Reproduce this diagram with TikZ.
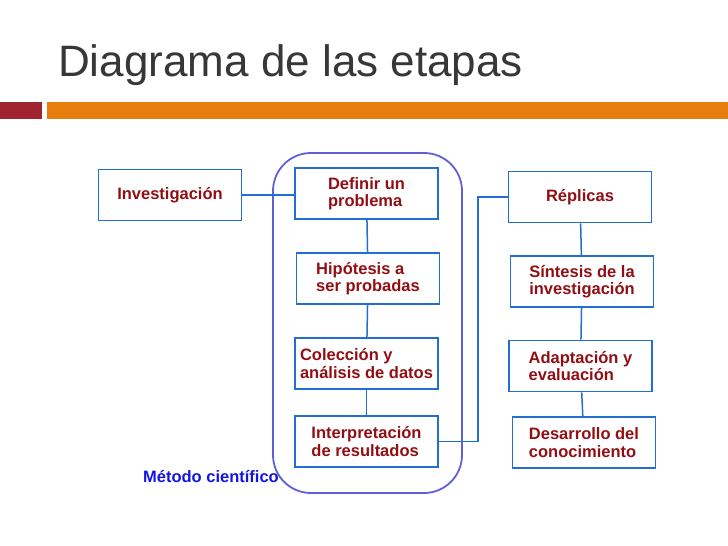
\documentclass[tikz,border=0pt]{standalone}
\usepackage{fontspec}
\setmainfont{Liberation Sans}
\usepackage{tikz}

\definecolor{titlegray}{RGB}{55,55,55}
\definecolor{barred}{RGB}{160,35,50}
\definecolor{barorange}{RGB}{232,125,15}
\definecolor{boxblue}{RGB}{35,110,210}
\definecolor{metblue}{RGB}{95,95,215}
\definecolor{txtred}{RGB}{145,15,20}
\definecolor{labblue}{RGB}{20,20,225}

\begin{document}
\begin{tikzpicture}[
  x=1pt, y=-1pt,
  stage/.style={draw=boxblue, line width=1.6pt, fill=white, minimum width=143pt, minimum height=51pt,
    inner sep=0pt, align=left, text=txtred, font=\fontsize{16.5}{17.5}\selectfont\bfseries},
  conn/.style={draw=boxblue, line width=1.5pt},
  metbox/.style={draw=metblue, line width=1.8pt, rounded corners=38pt},
  metlabel/.style={text=labblue, font=\fontsize{16.5}{18}\selectfont\bfseries},
]
\useasboundingbox (0,0) rectangle (728,546);

% --- Title and bars ---
\node[anchor=base west, inner sep=0pt, text=titlegray, font=\fontsize{44}{48}\selectfont] (title) at (58,76) {Diagrama de las etapas};
\fill[barred] (0,102) rectangle (42,119);
\fill[barorange] (47,102) rectangle (728,119);

% --- Metodo cientifico group ---
\draw[metbox] (273,153) rectangle (462,493);
\node[metlabel, anchor=east, inner sep=0pt] (metodo) at (279,477) {Método científico};

\node[stage] (inv) at (170,195) {Investigación};
\node[stage] (def) at (366.5,193.5) {Definir un\\problema};
\node[stage] (hip) at (368,278.5) {Hipótesis a\\ser probadas};
\node[stage] (col) at (366.5,363.5) {Colección y\\análisis de datos};
\node[stage] (int) at (366.5,441.5) {Interpretación\\de resultados};

% --- Right column ---
\node[stage] (rep) at (580,197) {Réplicas};
\node[stage] (sin) at (582,281.5) {Síntesis de la\\investigación};
\node[stage] (ada) at (580.5,366) {Adaptación y\\evaluación};
\node[stage] (des) at (584,442.5) {Desarrollo del\\conocimiento};

% Connectors
\draw[conn] (inv.east) -- (inv.east -| def.west);
\draw[conn] (def) -- (hip);
\draw[conn] (hip) -- (col);
\draw[conn] (col) -- (int);
\draw[conn] (int.east) -- ++(39,0) |- (rep.west);
\draw[conn] (rep) -- (sin);
\draw[conn] (sin) -- (ada);
\draw[conn] (ada) -- (des);

\end{tikzpicture}
\end{document}
